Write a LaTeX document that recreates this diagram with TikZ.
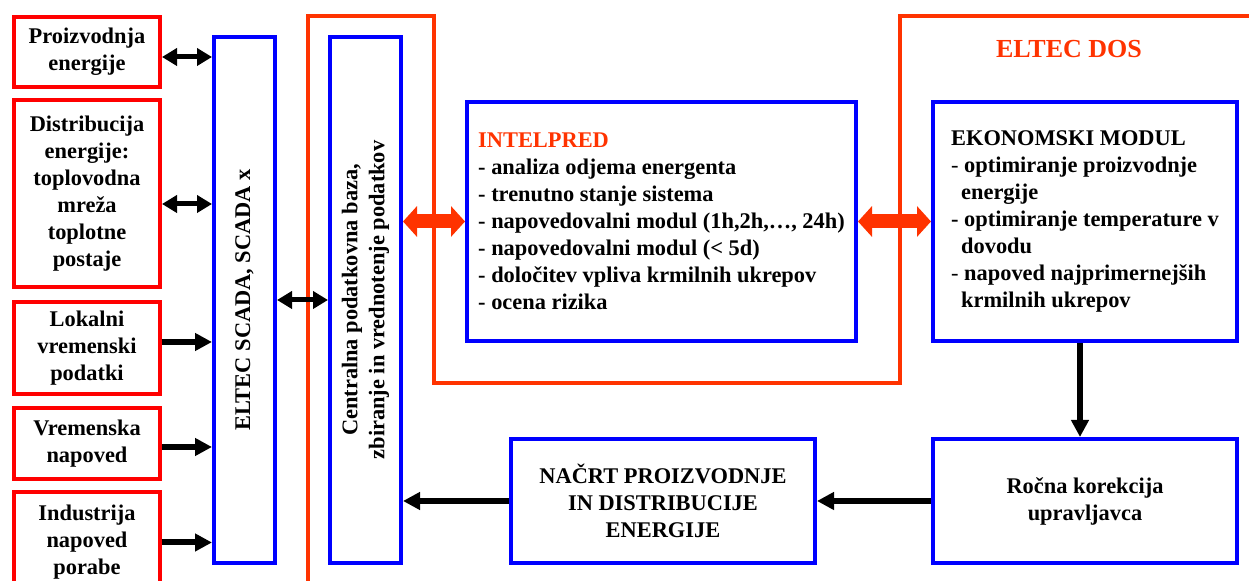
\documentclass[tikz,border=0pt]{standalone}
\usepackage{fontspec}
\setmainfont{Liberation Serif}
\usepackage{graphicx}
\usetikzlibrary{arrows.meta}
\definecolor{pred}{HTML}{FF0000}
\definecolor{ored}{HTML}{FF3300}
\definecolor{pblue}{HTML}{0000FF}
\newcommand{\dgfont}{\bfseries\fontsize{11.2}{13.5}\selectfont}
\begin{document}
\begin{tikzpicture}[x=0.5pt,y=-0.5pt,
  redbox/.style={draw=pred, line width=2pt, align=center, font=\dgfont, inner sep=1pt, minimum width=73pt},
  bluebox/.style={draw=pblue, line width=2pt, align=center, font=\dgfont, inner sep=1pt},
  outline/.style={draw=ored, line width=2.2pt, line join=miter},
  biarrow/.style={line width=2.5pt, >={Triangle[length=7.5pt,width=8.5pt]}, <->},
  onearrow/.style={line width=3pt, >={Triangle[length=8.5pt,width=8.5pt]}, ->},
  redarrow/.style={draw=ored, line width=7pt, >={Triangle[length=7pt,width=15pt]}, <->},
  titletext/.style={text=ored, font=\bfseries\fontsize{13}{15}\selectfont}
]
\useasboundingbox (0,0) rectangle (1249,581);
\clip (0,0) rectangle (1249,581);

% ELTEC DOS outline
\draw[outline] (308,600) -- (308,16) -- (434,16) -- (434,383) -- (900,383) -- (900,16) -- (1265,16);
\node[titletext] (dos) at (1069,49) {ELTEC DOS};

% left input boxes
\node[redbox, minimum height=35pt] (p1) at (87,52) {Proizvodnja\\energije};
\node[redbox, minimum height=93.5pt] (p2) at (87,193.5) {Distribucija\\energije:\\toplovodna\\mreža\\toplotne\\postaje};
\node[redbox, minimum height=46pt] (p3) at (87,348) {Lokalni\\vremenski\\podatki};
\node[redbox, minimum height=35.5pt] (p4) at (87,443.5) {Vremenska\\napoved};
\node[redbox, minimum height=50.5pt] (p5) at (87,542.5) {Industrija\\napoved\\porabe};

% vertical blue boxes
\node[bluebox, minimum width=30.5pt, minimum height=263pt] (scada) at (244.5,300) {\rotatebox{90}{ELTEC SCADA, SCADA x}};
\node[bluebox, minimum width=35.5pt, minimum height=263pt] (central) at (365.5,300) {\rotatebox{90}{\begin{tabular}{@{}c@{}}Centralna podatkovna baza,\\zbiranje in vrednotenje podatkov\end{tabular}}};

% module boxes
\node[bluebox, align=left, minimum width=194.5pt, minimum height=119.5pt] (intel) at (661.5,221.5)
  {\textcolor{ored}{INTELPRED}\\- analiza odjema energenta\\- trenutno stanje sistema\\- napovedovalni modul (1h,2h,…, 24h)\\- napovedovalni modul (< 5d)\\- določitev vpliva krmilnih ukrepov\\- ocena rizika};
\node[bluebox, align=left, minimum width=152pt, minimum height=119.5pt] (ekon) at (1085,221.5)
  {EKONOMSKI MODUL\\{\mdseries -} optimiranje proizvodnje\\\hspace*{5pt}energije\\- optimiranje temperature v\\\hspace*{5pt}dovodu\\{\mdseries -} napoved najprimernejših\\\hspace*{5pt}krmilnih ukrepov};
\node[bluebox, minimum width=152pt, minimum height=62pt] (rocna) at (1085,501) {Ročna korekcija\\upravljavca};
\node[bluebox, minimum width=152pt, minimum height=62pt] (nacrt) at (663,501) {NAČRT PROIZVODNJE\\IN DISTRIBUCIJE\\ENERGIJE};

% connectors
\draw[biarrow] ([yshift=-2.5pt]p1.east) -- ([yshift=-2.5pt]p1.east -| scada.west);
\draw[biarrow] ([yshift=-5.25pt]p2.east) -- ([yshift=-5.25pt]p2.east -| scada.west);
\draw[onearrow] ([yshift=3pt]p3.east) -- ([yshift=3pt]p3.east -| scada.west);
\draw[onearrow] ([yshift=-1.75pt]p4.east) -- ([yshift=-1.75pt]p4.east -| scada.west);
\draw[onearrow] (p5.east) -- (p5.east -| scada.west);
\draw[biarrow] (scada.east) -- (scada.east -| central.west);
\draw[redarrow] (intel.west -| central.east) -- (intel.west);
\draw[redarrow] (intel.east) -- (ekon.west);
\draw[onearrow] ([xshift=-2.5pt]ekon.south) -- ([xshift=-2.5pt]rocna.north);
\draw[onearrow] (rocna.west) -- (nacrt.east);
\draw[onearrow] (nacrt.west) -- (nacrt.west -| central.east);
\end{tikzpicture}
\end{document}
